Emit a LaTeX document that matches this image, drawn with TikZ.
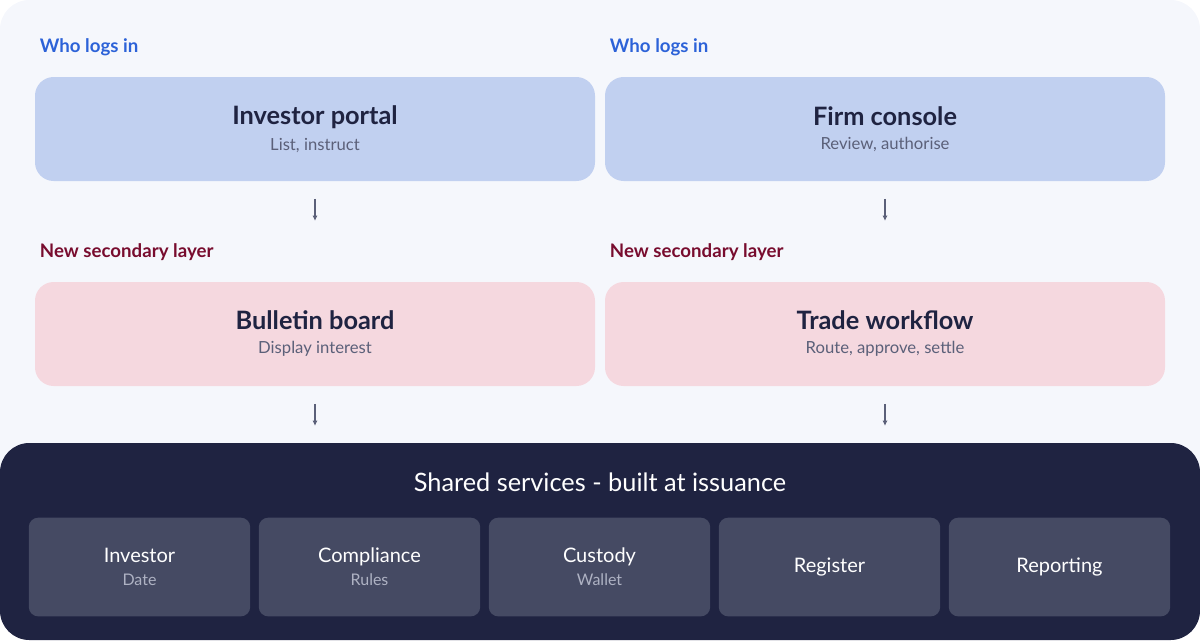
\documentclass[tikz,border=0pt]{standalone}
\usepackage{fontspec}
\setmainfont{Lato}
\usetikzlibrary{positioning,arrows.meta}
\definecolor{pagebg}{HTML}{F5F7FC}
\definecolor{topblue}{HTML}{C1D0F0}
\definecolor{midpink}{HTML}{F5D8DF}
\definecolor{lblblue}{HTML}{2C62D8}
\definecolor{lblred}{HTML}{780C2E}
\definecolor{navy}{HTML}{1F2341}
\definecolor{cellgray}{HTML}{454A63}
\definecolor{subgray}{HTML}{5B6079}
\definecolor{cellsub}{HTML}{AEB2C3}
\begin{document}
\begin{tikzpicture}[x=0.75pt, y=-0.75pt, thick,
  panel/.style={rounded corners=14pt, minimum width=420pt, minimum height=78pt, align=center, inner sep=0pt},
  tag/.style={anchor=west, font=\fontsize{14}{16}\selectfont\bfseries},
  cell/.style={fill=cellgray, rounded corners=7pt, minimum width=166pt, minimum height=74pt, align=center, inner sep=0pt, text=white},
  flow/.style={draw=subgray, line width=0.9pt, -{Latex[length=4pt,width=4pt]}}]
  \fill[pagebg, rounded corners=22pt] (0,0) rectangle (1200,640);
  \useasboundingbox (0,0) rectangle (1200,640);

  % who logs in
  \node[tag, text=lblblue] (tagA) at (35,47) {Who logs in};
  \node[tag, text=lblblue] (tagB) at (605,47) {Who logs in};
  \node[panel, fill=topblue] (portal) at (315,129) {{\fontsize{19}{22}\selectfont\bfseries\color{navy}Investor portal}\\[6pt]{\fontsize{12.5}{14}\selectfont\color{subgray}List, instruct}};
  \node[panel, fill=topblue] (console) at (885,129) {{\fontsize{19}{22}\selectfont\bfseries\color{navy}Firm console}\\[6pt]{\fontsize{12.5}{14}\selectfont\color{subgray}Review, authorise}};

  % secondary layer
  \node[tag, text=lblred] (tagC) at (35,252) {New secondary layer};
  \node[tag, text=lblred] (tagD) at (605,252) {New secondary layer};
  \node[panel, fill=midpink] (board) at (315,334) {{\fontsize{19}{22}\selectfont\bfseries\color{navy}Bulletin board}\\[6pt]{\fontsize{12.5}{14}\selectfont\color{subgray}Display interest}};
  \node[panel, fill=midpink] (workflow) at (885,334) {{\fontsize{19}{22}\selectfont\bfseries\color{navy}Trade workflow}\\[6pt]{\fontsize{12.5}{14}\selectfont\color{subgray}Route, approve, settle}};

  % shared services
  \fill[navy, rounded corners=22pt] (0,443) rectangle (1200,640);
  \node[text=white, font=\fontsize{19}{22}\selectfont] (shared) at (600,482) {Shared services - built at issuance};
  \node[cell] (c1) at (139.5,567) {{\fontsize{15}{18}\selectfont Investor}\\[5pt]{\fontsize{12}{14}\selectfont\color{cellsub}Date}};
  \node[cell] (c2) at (369.5,567) {{\fontsize{15}{18}\selectfont Compliance}\\[5pt]{\fontsize{12}{14}\selectfont\color{cellsub}Rules}};
  \node[cell] (c3) at (599.5,567) {{\fontsize{15}{18}\selectfont Custody}\\[5pt]{\fontsize{12}{14}\selectfont\color{cellsub}Wallet}};
  \node[cell, font=\fontsize{15}{18}\selectfont] (c4) at (829.5,567) {Register};
  \node[cell, font=\fontsize{15}{18}\selectfont] (c5) at (1059.5,567) {Reporting};

  \draw[flow] ([yshift=-13pt]portal.south) -- ++(0,22);
  \draw[flow] ([yshift=-13pt]console.south) -- ++(0,22);
  \draw[flow] ([yshift=-13pt]board.south) -- ++(0,22);
  \draw[flow] ([yshift=-13pt]workflow.south) -- ++(0,22);
\end{tikzpicture}
\end{document}
